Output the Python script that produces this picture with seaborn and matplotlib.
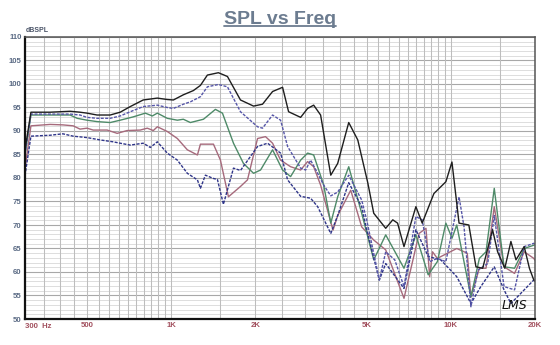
import matplotlib
matplotlib.use("Agg")
import matplotlib.pyplot as plt
from matplotlib.lines import Line2D
import matplotlib.transforms as mtransforms
import seaborn as sns
import pandas as pd

# ---- measurement data (frequency in Hz, level in dB SPL) ----
black_freq = [300, 315, 369, 435, 472, 500, 543, 605, 657, 714, 794, 842, 892, 968, 1018,
              1105, 1200, 1272, 1347, 1475, 1589, 1769, 1970, 2121, 2304, 2502, 2629, 2903,
              3075, 3232, 3422, 3721, 3939, 4314, 4647, 5046, 5300, 5850, 6200, 6450, 6800,
              7500, 7900, 8700, 9600, 10093, 10700, 11600, 12300, 13000, 14100, 14700, 15600,
              16400, 17100, 18300, 19100, 19800, 20000]
black_spl = [86, 94.0, 94.0, 94.2, 94.0, 93.8, 93.4, 93.4, 94.0, 95.2, 96.6, 96.8, 97.0, 96.7, 96.6,
             97.7, 98.6, 99.7, 101.9, 102.4, 101.6, 96.6, 95.3, 95.7, 98.4, 99.3, 94.1, 92.9,
             94.8, 95.5, 93.4, 80.6, 83.1, 91.8, 88.1, 79.0, 72.5, 69.3, 71.1, 70.4, 65.4,
             73.9, 70.4, 76.7, 79.2, 83.4, 70.4, 70.0, 61.1, 60.8, 69.0, 64.3, 60.8,
             66.5, 62.6, 65.4, 60.8, 58.3, 58.0]

blue_freq = [300, 315, 435, 472, 500, 543, 605, 657, 714, 794, 892, 968, 1018, 1105, 1171,
             1272, 1347, 1475, 1589, 1769, 2036, 2121, 2304, 2461, 2608, 2903, 3025, 3152,
             3340, 3510, 3721, 3939, 4314, 4800, 5000, 5550, 5850, 6300, 6800, 7500, 7900,
             8400, 8950, 9600, 10700, 11150, 11800, 12500, 13550, 14300, 15500, 16900,
             18300, 19800, 20000]
blue_spl = [85, 93.6, 93.6, 93.4, 92.9, 92.7, 92.7, 93.2, 94.1, 95.2, 95.5, 95.0, 94.8, 95.7, 96.2,
            97.3, 99.4, 99.9, 99.4, 94.1, 90.9, 90.6, 93.4, 92.3, 86.7, 82.1, 81.7, 83.8,
            81.0, 78.5, 76.2, 77.0, 80.6, 75.3, 71.1, 58.3, 64.3, 62.6, 56.9, 71.8, 71.1,
            62.2, 62.9, 62.2, 76.0, 69.6, 52.6, 60.4, 61.8, 72.0, 56.9, 56.2,
            65.4, 66.1, 66.0]

green_freq = [300, 315, 435, 461, 500, 543, 605, 657, 731, 808, 856, 892, 968, 1052, 1105,
              1171, 1304, 1439, 1525, 1670, 1813, 1970, 2087, 2304, 2502, 2673, 2903, 3075,
              3232, 3510, 3721, 3939, 4314, 4800, 5300, 5850, 6800, 7500, 8300, 8950, 9600,
              10100, 10500, 11800, 12650, 13360, 14300, 15500, 16900, 18300, 19800, 20000]
green_spl = [85, 93.4, 93.4, 92.7, 92.3, 92.0, 91.8, 92.3, 93.0, 93.8, 93.2, 93.8, 92.7, 92.3, 92.5,
             91.8, 92.5, 94.6, 93.8, 87.4, 83.1, 81.0, 81.7, 86.0, 81.7, 80.3, 83.8, 85.3,
             84.9, 78.5, 70.4, 76.0, 82.4, 72.5, 62.6, 67.9, 60.8, 67.9, 59.4, 62.2, 70.4,
             67.2, 70.0, 54.7, 62.9, 64.3, 77.8, 61.1, 60.8, 65.0, 65.7, 65.8]

pink_freq = [300, 315, 369, 410, 446, 472, 500, 526, 590, 641, 696, 775, 821, 863, 892, 968,
             1052, 1142, 1241, 1272, 1416, 1500, 1602, 1769, 1874, 2036, 2174, 2304, 2461,
             2673, 2903, 3075, 3232, 3422, 3790, 3939, 4386, 4800, 5300, 5850, 6800, 7700,
             8150, 8400, 8600, 8950, 10500, 11450, 11800, 12650, 13360, 14300, 15500, 16900,
             18300, 19800, 20000]
pink_spl = [82, 91.1, 91.4, 91.3, 91.1, 90.4, 90.6, 90.2, 90.2, 89.5, 90.1, 90.2, 90.6, 90.1, 90.9, 89.9,
            88.4, 86.0, 84.9, 87.2, 87.2, 83.8, 76.0, 78.2, 79.6, 88.4, 88.8, 87.4, 83.8,
            82.4, 81.7, 83.5, 82.4, 78.5, 68.9, 72.0, 77.4, 69.6, 66.8, 64.7, 54.4, 68.2,
            69.3, 59.0, 64.3, 62.9, 65.0, 64.0, 54.7, 60.8, 60.8, 73.9, 61.1, 59.7,
            64.3, 62.9, 62.5]

navy_freq = [300, 315, 369, 410, 446, 500, 557, 620, 657, 714, 794, 842, 892, 968, 1052,
             1142, 1241, 1272, 1325, 1416, 1463, 1537, 1670, 1769, 2036, 2211, 2461, 2608,
             2903, 3152, 3340, 3721, 3939, 4314, 4800, 5000, 5550, 5850, 6800, 7500, 8300,
             9200, 10500, 11800, 12800, 14300, 15500, 16400, 18300, 19800, 20000]
navy_spl = [80.5, 88.9, 89.1, 89.4, 88.9, 88.6, 88.1, 87.7, 87.4, 87.0, 87.4, 86.5, 87.7, 85.3, 83.8,
            81.0, 79.6, 77.8, 80.6, 79.9, 79.7, 74.4, 82.1, 81.6, 86.7, 87.4, 85.3, 79.6,
            76.1, 75.7, 73.9, 68.2, 72.0, 79.0, 73.9, 69.0, 58.3, 61.8, 56.5, 69.0, 63.3,
            62.6, 59.0, 53.3, 56.9, 61.1, 56.2, 53.3, 56.2, 58.3, 58.5]

curve_names = ["black", "blue", "green", "pink", "navy"]
curve_colors = ["#1e1e1e", "#5656a8", "#4e8a68", "#a66a7c", "#2f3589"]

# grid and tick layout
x_grid = ([300, 350, 400, 450, 500, 550, 600, 650, 700, 750, 800, 850, 900, 950, 1000]
          + [1500, 2000, 2500, 3000, 3500, 4000, 4500, 5000, 5500, 6000, 6500, 7000,
             7500, 8000, 8500, 9000, 9500, 10000, 15000, 20000])
x_tick_vals = [500, 1000, 2000, 5000, 10000, 20000]
x_tick_text = ["500", "1K", "2K", "5K", "10K", "20K"]
y_tick_vals = list(range(50, 111, 5))

frames = []
for name, f, s in [("black", black_freq, black_spl), ("blue", blue_freq, blue_spl),
                   ("green", green_freq, green_spl), ("pink", pink_freq, pink_spl),
                   ("navy", navy_freq, navy_spl)]:
    frames.append(pd.DataFrame({"freq": f, "spl": s, "curve": name}))
df = pd.concat(frames, ignore_index=True)

sns.set_theme(style="white")
plt.rcParams["font.family"] = ["Liberation Sans", "DejaVu Sans"]

W, H = 560, 345
fig = plt.figure(figsize=(W / 100, H / 100), dpi=100)
fig.patch.set_facecolor("white")
ax = fig.add_axes([25 / W, 26 / H, 510 / W, 282 / H])
ax.set_facecolor("white")
ax.set_xscale("log")
ax.set_xlim(300, 20000)
ax.set_ylim(50, 110)

# background grid
for yv in range(51, 110):
    if yv % 5:
        ax.axhline(yv, color="#d8d8d8", lw=0.6, zorder=0)
for yv in y_tick_vals:
    ax.axhline(yv, color="#a8a8a8", lw=0.8, zorder=0.5)
for xv in x_grid:
    ax.axvline(xv, color="#bdbdbd", lw=0.75, zorder=0.6)

palette = dict(zip(curve_names, curve_colors))
dashes = {"black": "", "blue": (2.2, 1.0), "green": "", "pink": "", "navy": (2.2, 1.0)}
sns.lineplot(data=df, x="freq", y="spl", hue="curve", style="curve",
             hue_order=["pink", "green", "navy", "blue", "black"],
             palette=palette, dashes=dashes, sort=False, estimator=None,
             legend=False, lw=1.0, ax=ax, zorder=3)

ax.set_xlabel("")
ax.set_ylabel("")
ax.minorticks_off()
ax.set_yticks(y_tick_vals)
ax.set_yticklabels([str(v) for v in y_tick_vals], color="#5a6a84",
                   fontsize=5.6, fontweight="bold")
ax.set_xticks(x_tick_vals)
ax.set_xticklabels(x_tick_text, color="#a2505e", fontsize=5.6, fontweight="bold")
ax.tick_params(axis="both", length=0)
ax.tick_params(axis="y", pad=2.5)
ax.tick_params(axis="x", pad=2.0)

# first frequency label with unit, anchored at the left edge
trans = mtransforms.blended_transform_factory(ax.transData, ax.transAxes)
ax.text(300, -0.014, "300  Hz", transform=trans, ha="left", va="top",
        color="#a2505e", fontsize=5.6, fontweight="bold")

for side in ["left", "bottom"]:
    ax.spines[side].set_color("#111111")
    ax.spines[side].set_linewidth(1.6)
for side in ["top", "right"]:
    ax.spines[side].set_color("#555555")
    ax.spines[side].set_linewidth(1.1)
for sp in ax.spines.values():
    sp.set_zorder(5)

ax.text(0.002, 1.012, "dBSPL", transform=ax.transAxes, ha="left", va="bottom",
        color="#4a5468", fontsize=5.0, fontweight="bold")

ax.text(0.985, 0.025, "LMS", transform=ax.transAxes, ha="right", va="bottom",
        color="#111111", fontsize=9, fontstyle="italic", family="DejaVu Sans")

# underlined title
title = fig.text(0.5, 1 - 23.5 / H, "SPL vs Freq", ha="center", va="baseline",
                 color="#6c7c90", fontsize=14, fontweight="bold")
fig.canvas.draw()
bb = title.get_window_extent(fig.canvas.get_renderer())
uy = (H - 25.5) / H
fig.add_artist(Line2D([bb.x0 / W, bb.x1 / W], [uy, uy], transform=fig.transFigure,
                      color="#6c7c90", lw=1.3))

fig.savefig("out.png", dpi=100, facecolor="white")
